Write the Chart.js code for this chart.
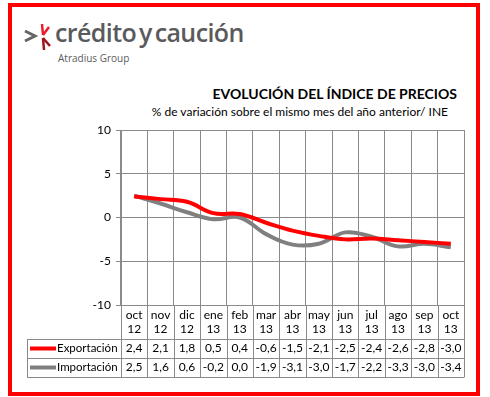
<!DOCTYPE html>
<html>
<head>
<meta charset="utf-8">
<script src="https://cdn.jsdelivr.net/npm/chart.js@4/dist/chart.umd.min.js"></script>
<style>
  html, body { margin: 0; padding: 0; background: #fff; }
  body { width: 490px; height: 397px; position: relative; overflow: hidden; font-family: Lato, sans-serif; }
  #frame { position: absolute; left: 8px; top: 3px; width: 472px; height: 393px; border: 4px solid #ff0000; box-sizing: border-box; }
  #logo { position: absolute; left: 22px; top: 20px; }
  #brand { position: absolute; left: 55px; top: 15px; font-family: "Open Sans", sans-serif; font-weight: 600; font-size: 25px; color: #5a5a5c; letter-spacing: -0.6px; word-spacing: -3px; }
  #group { position: absolute; left: 58px; top: 51px; font-family: "Open Sans", sans-serif; font-size: 10px; color: #5a5a5c; }
  #title { position: absolute; right: 33px; top: 85px; font-size: 14px; font-weight: bold; color: #000; }
  #subtitle { position: absolute; right: 42px; top: 104px; font-size: 12px; color: #000; }
  canvas { position: absolute; left: 0; top: 0; }
</style>
</head>
<body>
<div id="frame"></div>
<svg id="logo" width="34" height="34" viewBox="0 0 34 34">
  <polyline points="3,11 13,16 3,21" fill="none" stroke="#666" stroke-width="3"/>
  <line x1="20" y1="4" x2="21" y2="15" stroke="#e8202a" stroke-width="2.5"/>
  <line x1="27" y1="7" x2="21" y2="15" stroke="#e8202a" stroke-width="2.5"/>
  <line x1="21" y1="18" x2="22" y2="30" stroke="#a0141c" stroke-width="2.5"/>
  <line x1="21" y1="18" x2="28" y2="26" stroke="#a0141c" stroke-width="2.5"/>
</svg>
<div id="brand">crédito y caución</div>
<div id="group">Atradius Group</div>
<div id="title">EVOLUCIÓN DEL ÍNDICE DE PRECIOS</div>
<div id="subtitle">% de variación sobre el mismo mes del año anterior/ INE</div>
<canvas id="chart" width="490" height="397"></canvas>
<script>
const months = ['oct', 'nov', 'dic', 'ene', 'feb', 'mar', 'abr', 'may', 'jun', 'jul', 'ago', 'sep', 'oct'];
const years = ['12', '12', '12', '13', '13', '13', '13', '13', '13', '13', '13', '13', '13'];
const exportacion = [2.4, 2.1, 1.8, 0.5, 0.4, -0.6, -1.5, -2.1, -2.5, -2.4, -2.6, -2.8, -3.0];
const importacion = [2.5, 1.6, 0.6, -0.2, 0.0, -1.9, -3.1, -3.0, -1.7, -2.2, -3.3, -3.0, -3.4];
const yTicks = [-10, -5, 0, 5, 10];

const gridColor = '#8a8a8a';

function fmt(v) {
  return v.toFixed(1).replace('.', ',');
}

const dataTable = {
  id: 'dataTable',
  afterDraw(chart) {
    const ctx = chart.ctx;
    const x = chart.scales.x;
    const area = chart.chartArea;
    const step = x.getPixelForValue(1) - x.getPixelForValue(0);
    const rowTop = area.bottom;
    const row1 = 339, row2 = 358, row3 = 377, tableLeft = 27;

    ctx.save();
    ctx.strokeStyle = gridColor;
    ctx.lineWidth = 1;
    ctx.beginPath();
    for (let i = 0; i <= months.length; i++) {
      const bx = Math.round(x.getPixelForValue(i) - step / 2) + 0.5;
      ctx.moveTo(bx, rowTop);
      ctx.lineTo(bx, row3);
    }
    [row1, row2, row3].forEach(y => {
      ctx.moveTo(tableLeft, y + 0.5);
      ctx.lineTo(Math.round(area.right) + 0.5, y + 0.5);
    });
    ctx.moveTo(tableLeft + 0.5, row1);
    ctx.lineTo(tableLeft + 0.5, row3);
    ctx.stroke();

    ctx.fillStyle = '#000';
    ctx.textAlign = 'center';
    ctx.textBaseline = 'middle';
    ctx.font = '12px Lato';
    months.forEach((m, i) => {
      const cx = x.getPixelForValue(i);
      ctx.fillText(m, cx, 315);
      ctx.fillText(years[i], cx, 329);
      ctx.fillText(fmt(exportacion[i]), cx, 348.5);
      ctx.fillText(fmt(importacion[i]), cx, 367.5);
    });

    ctx.lineWidth = 4;
    ctx.strokeStyle = '#ff0000';
    ctx.beginPath(); ctx.moveTo(30, 348.5); ctx.lineTo(56, 348.5); ctx.stroke();
    ctx.strokeStyle = '#808080';
    ctx.beginPath(); ctx.moveTo(30, 367.5); ctx.lineTo(56, 367.5); ctx.stroke();
    ctx.textAlign = 'left';
    ctx.font = '11.5px Lato';
    ctx.fillText('Exportación', 57, 348.5);
    ctx.fillText('Importación', 57, 367.5);
    ctx.restore();
  }
};

new Chart(document.getElementById('chart'), {
  type: 'line',
  data: {
    labels: months.map((m, i) => m + ' ' + years[i]),
    datasets: [
      { label: 'Exportación', data: exportacion, borderColor: '#ff0000', borderWidth: 4, pointRadius: 0, tension: 0.4 },
      { label: 'Importación', data: importacion, borderColor: '#808080', borderWidth: 4, pointRadius: 0, tension: 0.4 }
    ]
  },
  options: {
    responsive: false,
    animation: false,
    layout: { padding: { top: 130, bottom: 92, left: 0, right: 26 } },
    plugins: { legend: { display: false }, tooltip: { enabled: false } },
    scales: {
      x: {
        offset: true,
        grid: { offset: true, color: gridColor, drawTicks: false },
        border: { color: gridColor },
        ticks: { display: false },
        afterFit(scale) { scale.height = 0; }
      },
      y: {
        min: -10,
        max: 10,
        afterBuildTicks(scale) { scale.ticks = yTicks.map(v => ({ value: v })); },
        ticks: { color: '#000', font: { family: 'Lato', size: 12 }, padding: 5 },
        grid: { color: gridColor, tickLength: 5 },
        border: { color: gridColor },
        afterFit(scale) { scale.width = 121; }
      }
    }
  },
  plugins: [dataTable]
});
</script>
</body>
</html>
